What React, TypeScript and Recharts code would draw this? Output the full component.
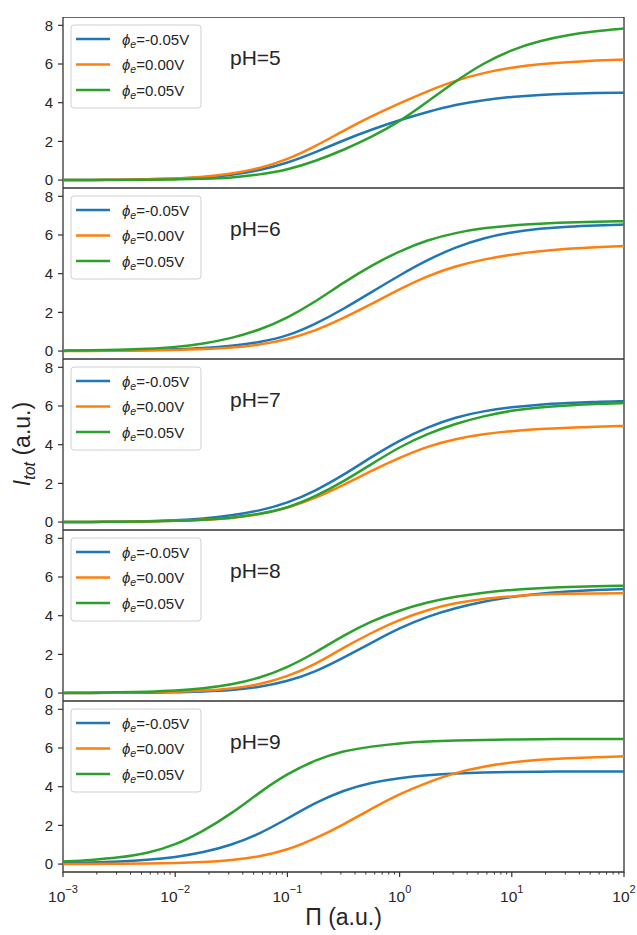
import React from "react";
import { LineChart, Line, XAxis, YAxis, ReferenceArea } from "recharts";

// Π sampled every quarter decade, 1e-3 .. 1e2
const PI = [
  0.001, 0.00178, 0.00316, 0.00562, 0.01, 0.0178, 0.0316, 0.0562, 0.1, 0.178, 0.316,
  0.562, 1, 1.78, 3.16, 5.62, 10, 17.8, 31.6, 56.2, 100,
];

const SERIES_NAMES = ["-0.05V", "0.00V", "0.05V"];
const SERIES_COLORS = ["#1f77b4", "#ff7f0e", "#2ca02c"];

const PH5_NEG = [0, 0.01, 0.02, 0.04, 0.07, 0.14, 0.26, 0.5, 0.88, 1.43, 2.06, 2.61, 3.1, 3.53, 3.9, 4.14, 4.31, 4.41, 4.47, 4.5, 4.52];
const PH5_ZERO = [0, 0.01, 0.02, 0.04, 0.08, 0.16, 0.32, 0.6, 1.05, 1.75, 2.55, 3.3, 3.97, 4.6, 5.15, 5.55, 5.82, 6.0, 6.1, 6.18, 6.23];
const PH5_POS = [0, 0, 0.01, 0.02, 0.03, 0.06, 0.12, 0.28, 0.53, 0.98, 1.55, 2.22, 3.02, 4.06, 5.12, 6.05, 6.75, 7.2, 7.5, 7.7, 7.83];

const PH6_NEG = [0.01, 0.02, 0.03, 0.05, 0.09, 0.15, 0.26, 0.45, 0.77, 1.4, 2.17, 3.05, 3.92, 4.72, 5.38, 5.85, 6.15, 6.33, 6.44, 6.5, 6.54];
const PH6_ZERO = [0, 0.01, 0.02, 0.03, 0.05, 0.1, 0.17, 0.32, 0.6, 1.05, 1.7, 2.43, 3.2, 3.89, 4.4, 4.74, 5.0, 5.17, 5.29, 5.38, 5.43];
const PH6_POS = [0.02, 0.04, 0.07, 0.12, 0.2, 0.38, 0.66, 1.08, 1.71, 2.55, 3.54, 4.43, 5.17, 5.75, 6.12, 6.36, 6.5, 6.59, 6.65, 6.69, 6.71];

const PH7_NEG = [0, 0.01, 0.02, 0.04, 0.09, 0.18, 0.33, 0.58, 0.98, 1.61, 2.43, 3.37, 4.23, 4.91, 5.43, 5.74, 5.94, 6.08, 6.15, 6.22, 6.25];
const PH7_ZERO = [0, 0.01, 0.02, 0.03, 0.06, 0.11, 0.19, 0.39, 0.72, 1.23, 1.92, 2.65, 3.33, 3.92, 4.31, 4.55, 4.71, 4.81, 4.88, 4.93, 4.97];
const PH7_POS = [0, 0.01, 0.02, 0.03, 0.06, 0.12, 0.21, 0.41, 0.72, 1.32, 2.09, 3.0, 3.89, 4.57, 5.09, 5.48, 5.77, 5.94, 6.03, 6.11, 6.15];

const PH8_NEG = [0, 0.01, 0.01, 0.02, 0.04, 0.08, 0.14, 0.3, 0.6, 1.1, 1.83, 2.6, 3.37, 3.97, 4.4, 4.74, 4.98, 5.15, 5.26, 5.33, 5.38];
const PH8_ZERO = [0, 0.01, 0.02, 0.04, 0.06, 0.12, 0.22, 0.43, 0.85, 1.49, 2.35, 3.12, 3.8, 4.31, 4.66, 4.88, 5.0, 5.1, 5.14, 5.15, 5.17];
const PH8_POS = [0.01, 0.02, 0.04, 0.07, 0.12, 0.24, 0.43, 0.77, 1.32, 2.09, 2.98, 3.72, 4.28, 4.7, 4.99, 5.2, 5.34, 5.43, 5.49, 5.52, 5.55];

const PH9_NEG = [0.05, 0.07, 0.12, 0.21, 0.35, 0.6, 0.98, 1.55, 2.35, 3.18, 3.82, 4.22, 4.45, 4.6, 4.69, 4.74, 4.76, 4.78, 4.78, 4.78, 4.78];
const PH9_ZERO = [0, 0, 0.02, 0.03, 0.05, 0.1, 0.2, 0.38, 0.72, 1.32, 2.04, 2.86, 3.63, 4.23, 4.73, 5.05, 5.27, 5.4, 5.48, 5.53, 5.57];
const PH9_POS = [0.13, 0.21, 0.33, 0.55, 0.98, 1.7, 2.6, 3.7, 4.68, 5.38, 5.86, 6.08, 6.25, 6.34, 6.39, 6.42, 6.44, 6.46, 6.46, 6.46, 6.46];

const PANELS = [
  { label: "pH=5", series: [PH5_NEG, PH5_ZERO, PH5_POS] },
  { label: "pH=6", series: [PH6_NEG, PH6_ZERO, PH6_POS] },
  { label: "pH=7", series: [PH7_NEG, PH7_ZERO, PH7_POS] },
  { label: "pH=8", series: [PH8_NEG, PH8_ZERO, PH8_POS] },
  { label: "pH=9", series: [PH9_NEG, PH9_ZERO, PH9_POS] },
];

const MAJOR_TICKS = [0.001, 0.01, 0.1, 1, 10, 100];
const MAJOR_EXP = ["\u22123", "\u22122", "\u22121", "0", "1", "2"];
const MINOR_MULT = [2, 3, 4, 5, 6, 7, 8, 9];
const Y_TICKS = [0, 2, 4, 6, 8];
const Y_DOMAIN: [number, number] = [-0.41, 8.43];

const X_TICKS = [
  ...MAJOR_TICKS,
  ...MAJOR_TICKS.slice(0, -1).flatMap((d) => MINOR_MULT.map((m) => +(m * d).toPrecision(3))),
];

const W = 637;
const H = 935;
const PLOT_LEFT = 63;
const PLOT_RIGHT = 624;
const PANEL_TOP = 17;
const PANEL_H = 171;
const Y_AXIS_W = 40;
const X_AXIS_H = 40;
const INK = "#262626";
const SPINE = "#333";
const FONT = "'Liberation Sans', Arial, sans-serif";

function PiTick(props: any) {
  const { x, y, payload } = props;
  const idx = MAJOR_TICKS.findIndex((t) => Math.abs(t - payload.value) < t * 1e-6);
  if (idx < 0) {
    return <line x1={x} x2={x} y1={y} y2={y + 2.5} stroke={SPINE} strokeWidth={1} />;
  }
  return (
    <g>
      <line x1={x} x2={x} y1={y} y2={y + 5} stroke={SPINE} strokeWidth={1.2} />
      <text x={x} y={y + 30} textAnchor="middle" fill={INK} fontSize={15.5} fontFamily={FONT}>
        <tspan>10</tspan>
        <tspan fontSize={11} dy={-9}>
          {MAJOR_EXP[idx]}
        </tspan>
      </text>
    </g>
  );
}

function Panel({ idx }: { idx: number }) {
  const panel = PANELS[idx];
  const last = idx === PANELS.length - 1;
  const rows = PI.map((p, i) => ({
    pi: p,
    s0: panel.series[0][i],
    s1: panel.series[1][i],
    s2: panel.series[2][i],
  }));
  return (
    <div style={{ position: "absolute", left: 0, top: PANEL_TOP + idx * PANEL_H }}>
      <LineChart
        width={W}
        height={PANEL_H + (last ? X_AXIS_H : 0)}
        data={rows}
        margin={{ top: 0, right: W - PLOT_RIGHT, bottom: 0, left: PLOT_LEFT - Y_AXIS_W }}
      >
        <XAxis
          dataKey="pi"
          type="number"
          scale="log"
          domain={[0.001, 100]}
          allowDataOverflow
          ticks={X_TICKS}
          interval={0}
          hide={!last}
          height={X_AXIS_H}
          axisLine={false}
          tickLine={false}
          tickSize={0}
          tickMargin={0}
          tick={(p: any) => <PiTick {...p} />}
        />
        <YAxis
          type="number"
          domain={Y_DOMAIN}
          allowDataOverflow
          ticks={Y_TICKS}
          interval={0}
          width={Y_AXIS_W}
          axisLine={false}
          tickSize={5}
          tickMargin={5}
          tickLine={{ stroke: SPINE, strokeWidth: 1.2 }}
          tick={{ fill: INK, fontSize: 15, fontFamily: FONT }}
        />
        {SERIES_COLORS.map((c, i) => (
          <Line
            key={i}
            dataKey={`s${i}`}
            type="basis"
            stroke={c}
            strokeWidth={2.5}
            dot={false}
            activeDot={false}
            isAnimationActive={false}
          />
        ))}
        <ReferenceArea
          x1={0.001}
          x2={100}
          y1={Y_DOMAIN[0]}
          y2={Y_DOMAIN[1]}
          fill="none"
          stroke={SPINE}
          strokeWidth={1.3}
          ifOverflow="visible"
        />
      </LineChart>
    </div>
  );
}

function Overlay() {
  return (
    <svg
      width={W}
      height={H}
      style={{ position: "absolute", left: 0, top: 0, pointerEvents: "none" }}
      fontFamily={FONT}
    >
      {PANELS.map((p, i) => {
        const top = PANEL_TOP + i * PANEL_H;
        return (
          <g key={i}>
            <rect x={71} y={top + 8} width={130} height={83} rx={3} fill="#fff" fillOpacity={0.8} stroke="#d0d0d0" />
            {SERIES_NAMES.map((n, j) => {
              const cy = top + 22 + j * 25.5;
              return (
                <g key={j}>
                  <line x1={76} x2={110} y1={cy} y2={cy} stroke={SERIES_COLORS[j]} strokeWidth={2.5} />
                  <text x={122} y={cy + 5.5} fill={INK} fontSize={15}>
                    <tspan fontStyle="italic">ϕ</tspan>
                    <tspan fontStyle="italic" fontSize={10.5} dy={3}>
                      e
                    </tspan>
                    <tspan dy={-3}>={n}</tspan>
                  </text>
                </g>
              );
            })}
            <text x={230} y={top + 48} fill={INK} fontSize={21}>
              {p.label}
            </text>
          </g>
        );
      })}
      <text transform="translate(30,444) rotate(-90)" textAnchor="middle" fill={INK} fontSize={23}>
        <tspan fontStyle="italic">I</tspan>
        <tspan fontStyle="italic" fontSize={16} dy={5}>
          tot
        </tspan>
        <tspan dy={-5}> (a.u.)</tspan>
      </text>
      <text x={(PLOT_LEFT + PLOT_RIGHT) / 2} y={925} textAnchor="middle" fill={INK} fontSize={23}>
        Π (a.u.)
      </text>
    </svg>
  );
}

export default function App() {
  return (
    <div
      style={{
        position: "absolute",
        left: 0,
        top: 0,
        width: W,
        height: H,
        background: "#fff",
        fontFamily: FONT,
        overflow: "hidden",
      }}
    >
      {PANELS.map((_, i) => (
        <Panel key={i} idx={i} />
      ))}
      <Overlay />
    </div>
  );
}
